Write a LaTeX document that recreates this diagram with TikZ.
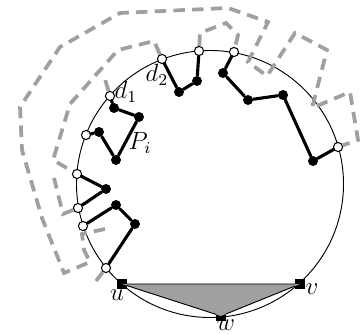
\documentclass[tikz,border=0pt]{standalone}
\usepackage{amsmath,amssymb}
\usepackage{xcolor}
\usetikzlibrary{positioning,calc}
\definecolor{bndgray}{RGB}{160,160,160}
\definecolor{facegray}{RGB}{160,160,160}

\begin{document}
\begin{tikzpicture}[x=0.0169cm,y=-0.0169cm,
  wv/.style={circle, draw=black, fill=white, line width=0.5pt,
    inner sep=0pt, minimum size=4.4pt},
  bv/.style={circle, fill=black, inner sep=0pt, minimum size=4.8pt},
  sq/.style={rectangle, fill=black, inner sep=0pt, minimum size=4.4pt},
  pth/.style={line width=1.5pt, line cap=round, line join=round},
  bnd/.style={draw=bndgray, line width=1.8pt, dash pattern=on 5.5pt off 3.5pt},
  lab/.style={inner sep=0pt, font=\large},
]
  \useasboundingbox (0,0) rectangle (362,334);
  % the disk
  \draw[line width=0.45pt] (210,184) circle [radius=133.5];
  % white vertices on the boundary
  \node[wv] (d1) at (110,96) {};
  \node[wv] (o2) at (86,135) {};
  \node[wv] (o3) at (77,174) {};
  \node[wv] (o4) at (78,208) {};
  \node[wv] (o5) at (83,226) {};
  \node[wv] (o6) at (106,268) {};
  \node[wv] (d2) at (162,59) {};
  \node[wv] (o7) at (199,51) {};
  \node[wv] (o8) at (234,52) {};
  \node[wv] (o9) at (338,147) {};
  % face u v w
  \node[sq] (u) at (122,284) {};
  \node[sq] (v) at (300,284) {};
  \node[sq] (w) at (221,316) {};
  \fill[facegray] (u.center) -- (v.center) -- (w.center) -- cycle;
  \draw[line width=0.45pt] (u) -- (v) -- (w) -- (u);
  % dashed boundaries
  \draw[bnd] (105,229) -- (82,234) -- (84,250) -- (90,262) -- (64,273)
    -- (42,218) -- (22,150) -- (20,107) -- (60,47) -- (120,13)
    -- (228,8) -- (268,22) -- (248,62) -- (267,76) -- (295,33)
    -- (327,50) -- (312,108) -- (350,92) -- (358,140) -- (o9);
  \draw[bnd] (d2) -- (154,41) -- (118,50) -- (70,104) -- (53,160)
    -- (o3);
  \draw[bnd] (o4) -- (63,214) -- (54,178);
  \draw[bnd] (o7) -- (200,33) -- (226,23) -- (238,35) -- (o8);
  \draw[bnd] (d1) -- (104,76);
  \draw[bnd] (o6) -- (96,281);
  % black vertices
  \node[bv] (b1) at (99,132) {};
  \node[bv] (b2) at (116,160) {};
  \node[bv] (b3) at (139,117) {};
  \node[bv] (b4) at (114,108) {};
  \node[bv] (b5) at (106,189) {};
  \node[bv] (b6) at (116,205) {};
  \node[bv] (b7) at (135,224) {};
  \node[bv] (b8) at (179,92) {};
  \node[bv] (b9) at (197,81) {};
  \node[bv] (b10) at (223,73) {};
  \node[bv] (b11) at (248,100) {};
  \node[bv] (b12) at (283,95) {};
  \node[bv] (b13) at (313,161) {};
  % paths
  \draw[pth] (o2) -- (b1) -- (b2) -- (b3) -- (b4) -- (d1);
  \draw[pth] (o3) -- (b5) -- (o4);
  \draw[pth] (o5) -- (b6) -- (b7) -- (o6);
  \draw[pth] (d2) -- (b8) -- (b9) -- (o7);
  \draw[pth] (o8) -- (b10) -- (b11) -- (b12) -- (b13) -- (o9);
  % labels
  \node[lab] (ld1) at (126,92) {$d_1$};
  \node[lab] (ld2) at (157,75) {$d_2$};
  \node[lab] (lpi) at (140,143) {$P_i$};
  \node[lab] (lu) at (117,295) {$u$};
  \node[lab] (lv) at (312,289) {$v$};
  \node[lab] (lw) at (226,325) {$w$};
\end{tikzpicture}
\end{document}
